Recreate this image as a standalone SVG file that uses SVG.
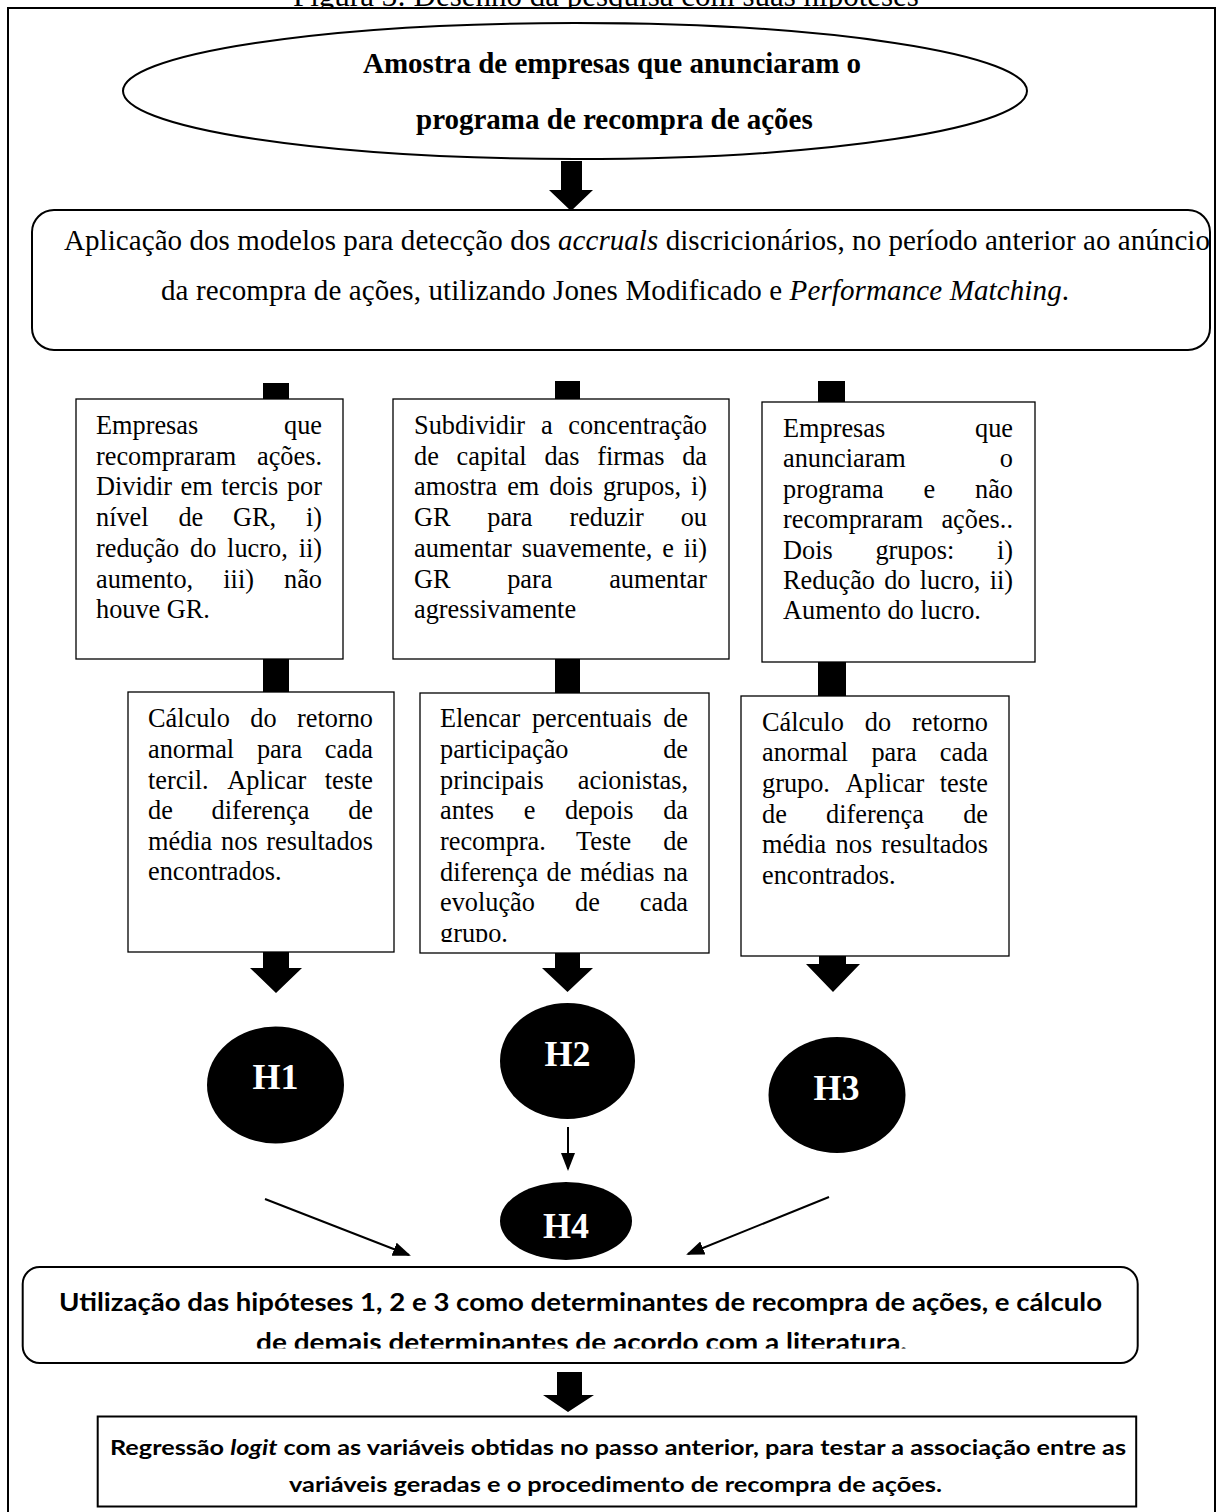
<svg xmlns="http://www.w3.org/2000/svg" width="1222" height="1512" viewBox="0 0 1222 1512">
<style>
.ln{fill:none;stroke:#000;stroke-width:2}
.wf{fill:#fff;stroke:#000;stroke-width:2}
.bx{fill:#fff;stroke:#000;stroke-width:1.3}
.blk{fill:#000}
.thin{fill:none;stroke:#000;stroke-width:2;marker-end:url(#arr)}
.serif{font-family:"Liberation Serif","Times New Roman",serif;fill:#000}
.t{font-size:26.3px}
.e{text-anchor:end}
.h{font-family:"Liberation Serif","Times New Roman",serif;font-size:36px;font-weight:bold;fill:#fff;text-anchor:middle}
.sans{font-family:Lato,"Open Sans",sans-serif;font-weight:bold;fill:#000}
</style>
<defs>
<marker id="arr" markerUnits="userSpaceOnUse" markerWidth="18" markerHeight="14" refX="16" refY="7" orient="auto">
<path d="M0,0 L18,7 L0,14 Z" fill="#000"/>
</marker>
<clipPath id="c5"><rect x="420" y="693" width="289" height="249"/></clipPath>
<clipPath id="c7"><rect x="22" y="1267" width="1116" height="81.5"/></clipPath>
</defs>
<rect width="1222" height="1512" fill="#fff"/>
<text class="serif" x="293" y="6" font-size="31">Figura 3: Desenho da pesquisa com suas hipóteses</text>
<rect id="frame" class="wf" x="8" y="8" width="1207" height="1512"/>

<g id="n1">
<ellipse class="wf" cx="575" cy="91" rx="452" ry="68"/>
<text class="serif" font-size="29" font-weight="bold" x="363" y="73">Amostra de empresas que anunciaram o</text>
<text class="serif" font-size="29" font-weight="bold" x="416" y="129">programa de recompra de ações</text>
</g>

<g id="n2">
<rect class="wf" x="32" y="210" width="1178" height="140" rx="22"/>
<text class="serif" font-size="29" x="64" y="250" textLength="1146" lengthAdjust="spacing">Aplicação dos modelos para detecção dos <tspan font-style="italic">accruals</tspan> discricionários, no período anterior ao anúncio</text>
<text class="serif" font-size="29" x="161" y="300" textLength="908" lengthAdjust="spacing">da recompra de ações, utilizando Jones Modificado e <tspan font-style="italic">Performance Matching</tspan>.</text>
</g>

<g id="connectors">
<polygon class="blk" points="561,161 582,161 582,190 593,190 571,211 549,190 561,190"/>
<rect class="blk" x="263" y="383" width="26" height="16"/>
<rect class="blk" x="555" y="381" width="25" height="18"/>
<rect class="blk" x="818" y="381" width="27" height="21"/>
<rect class="blk" x="263" y="659" width="26" height="33"/>
<rect class="blk" x="555" y="659" width="25" height="34"/>
<rect class="blk" x="818" y="662" width="28" height="34"/>
<polygon class="blk" points="263,952 289,952 289,968 302,968 276,993 250,968 263,968"/>
<polygon class="blk" points="555,953 580,953 580,968 593,968 567.5,992 542,968 555,968"/>
<polygon class="blk" points="819,956 846,956 846,964 860,964 833,992 806,964 819,964"/>
<line class="thin" x1="568" y1="1127" x2="568" y2="1169"/>
<line class="thin" x1="265" y1="1199" x2="409" y2="1255"/>
<line class="thin" x1="829" y1="1197" x2="688" y2="1254"/>
<polygon class="blk" points="557,1372 582,1372 582,1395 594,1395 568,1412 543,1395 557,1395"/>
</g>

<g id="b1">
<rect class="bx" x="76" y="399" width="267" height="260"/>
<text class="serif t"><tspan x="96" y="434">Empresas</tspan><tspan class="e" x="322" y="434">que</tspan><tspan x="96" y="464.7">recompraram</tspan><tspan class="e" x="322" y="464.7">ações.</tspan><tspan x="96" y="495.4">Dividir</tspan><tspan x="180.6" y="495.4">em</tspan><tspan x="221.3" y="495.4">tercis</tspan><tspan class="e" x="322" y="495.4">por</tspan><tspan x="96" y="526.1">nível</tspan><tspan x="178.4" y="526.1">de</tspan><tspan x="233" y="526.1">GR,</tspan><tspan class="e" x="322" y="526.1">i)</tspan><tspan x="96" y="556.8">redução</tspan><tspan x="190" y="556.8">do</tspan><tspan x="227.1" y="556.8">lucro,</tspan><tspan class="e" x="322" y="556.8">ii)</tspan><tspan x="96" y="587.5">aumento,</tspan><tspan x="223.3" y="587.5">iii)</tspan><tspan class="e" x="322" y="587.5">não</tspan><tspan x="96" y="618.2">houve GR.</tspan></text>
</g>

<g id="b2">
<rect class="bx" x="393" y="399" width="336" height="260"/>
<text class="serif t"><tspan x="414" y="434">Subdividir</tspan><tspan x="540.9" y="434">a</tspan><tspan class="e" x="707" y="434">concentração</tspan><tspan x="414" y="464.7">de</tspan><tspan x="456.6" y="464.7">capital</tspan><tspan x="544.4" y="464.7">das</tspan><tspan x="597.3" y="464.7">firmas</tspan><tspan class="e" x="707" y="464.7">da</tspan><tspan x="414" y="495.4">amostra</tspan><tspan x="507.2" y="495.4">em</tspan><tspan x="549.2" y="495.4">dois</tspan><tspan x="602.9" y="495.4">grupos,</tspan><tspan class="e" x="707" y="495.4">i)</tspan><tspan x="414" y="526.1">GR</tspan><tspan x="487.3" y="526.1">para</tspan><tspan x="569.4" y="526.1">reduzir</tspan><tspan class="e" x="707" y="526.1">ou</tspan><tspan x="414" y="556.8">aumentar</tspan><tspan x="521.7" y="556.8">suavemente,</tspan><tspan x="662.2" y="556.8">e</tspan><tspan class="e" x="707" y="556.8">ii)</tspan><tspan x="414" y="587.5">GR</tspan><tspan x="507.2" y="587.5">para</tspan><tspan class="e" x="707" y="587.5">aumentar</tspan><tspan x="414" y="618.2">agressivamente</tspan></text>
</g>

<g id="b3">
<rect class="bx" x="762" y="402" width="273" height="260"/>
<text class="serif t"><tspan x="783" y="437">Empresas</tspan><tspan class="e" x="1013" y="437">que</tspan><tspan x="783" y="467.4">anunciaram</tspan><tspan class="e" x="1013" y="467.4">o</tspan><tspan x="783" y="497.8">programa</tspan><tspan x="923.6" y="497.8">e</tspan><tspan class="e" x="1013" y="497.8">não</tspan><tspan x="783" y="528.2">recompraram</tspan><tspan class="e" x="1013" y="528.2">ações..</tspan><tspan x="783" y="558.6">Dois</tspan><tspan x="875.4" y="558.6">grupos:</tspan><tspan class="e" x="1013" y="558.6">i)</tspan><tspan x="783" y="589">Redução</tspan><tspan x="884.2" y="589">do</tspan><tspan x="919.8" y="589">lucro,</tspan><tspan class="e" x="1013" y="589">ii)</tspan><tspan x="783" y="619.4">Aumento do lucro.</tspan></text>
</g>

<g id="b4">
<rect class="bx" x="128" y="692" width="266" height="260"/>
<text class="serif t"><tspan x="148" y="727.3">Cálculo</tspan><tspan x="250.3" y="727.3">do</tspan><tspan class="e" x="373" y="727.3">retorno</tspan><tspan x="148" y="757.9">anormal</tspan><tspan x="256.9" y="757.9">para</tspan><tspan class="e" x="373" y="757.9">cada</tspan><tspan x="148" y="788.5">tercil.</tspan><tspan x="227.3" y="788.5">Aplicar</tspan><tspan class="e" x="373" y="788.5">teste</tspan><tspan x="148" y="819.1">de</tspan><tspan x="211.6" y="819.1">diferença</tspan><tspan class="e" x="373" y="819.1">de</tspan><tspan x="148" y="849.7">média</tspan><tspan x="221.1" y="849.7">nos</tspan><tspan class="e" x="373" y="849.7">resultados</tspan><tspan x="148" y="880.3">encontrados.</tspan></text>
</g>

<g id="b5">
<rect class="bx" x="420" y="693" width="289" height="260"/>
<text class="serif t" clip-path="url(#c5)"><tspan x="440" y="727.3">Elencar</tspan><tspan x="531.9" y="727.3">percentuais</tspan><tspan class="e" x="688" y="727.3">de</tspan><tspan x="440" y="758">participação</tspan><tspan class="e" x="688" y="758">de</tspan><tspan x="440" y="788.6">principais</tspan><tspan class="e" x="688" y="788.6">acionistas,</tspan><tspan x="440" y="819.3">antes</tspan><tspan x="523.7" y="819.3">e</tspan><tspan x="564.9" y="819.3">depois</tspan><tspan class="e" x="688" y="819.3">da</tspan><tspan x="440" y="850">recompra.</tspan><tspan x="576" y="850">Teste</tspan><tspan class="e" x="688" y="850">de</tspan><tspan x="440" y="880.6">diferença</tspan><tspan x="546.5" y="880.6">de</tspan><tspan x="580" y="880.6">médias</tspan><tspan class="e" x="688" y="880.6">na</tspan><tspan x="440" y="911.3">evolução</tspan><tspan x="575" y="911.3">de</tspan><tspan class="e" x="688" y="911.3">cada</tspan><tspan x="440" y="942">grupo.</tspan></text>
</g>

<g id="b6">
<rect class="bx" x="741" y="696" width="268" height="260"/>
<text class="serif t"><tspan x="762" y="730.7">Cálculo</tspan><tspan x="864.8" y="730.7">do</tspan><tspan class="e" x="988" y="730.7">retorno</tspan><tspan x="762" y="761.3">anormal</tspan><tspan x="871.4" y="761.3">para</tspan><tspan class="e" x="988" y="761.3">cada</tspan><tspan x="762" y="791.9">grupo.</tspan><tspan x="845.4" y="791.9">Aplicar</tspan><tspan class="e" x="988" y="791.9">teste</tspan><tspan x="762" y="822.5">de</tspan><tspan x="826.1" y="822.5">diferença</tspan><tspan class="e" x="988" y="822.5">de</tspan><tspan x="762" y="853.1">média</tspan><tspan x="835.6" y="853.1">nos</tspan><tspan class="e" x="988" y="853.1">resultados</tspan><tspan x="762" y="883.7">encontrados.</tspan></text>
</g>

<g id="h1"><ellipse class="blk" cx="275.5" cy="1085" rx="68.5" ry="58.5"/><text class="h" x="275.5" y="1089">H1</text></g>
<g id="h2"><ellipse class="blk" cx="567.5" cy="1061" rx="67.5" ry="58"/><text class="h" x="567.5" y="1066">H2</text></g>
<g id="h3"><ellipse class="blk" cx="837" cy="1095" rx="68.5" ry="58"/><text class="h" x="836.5" y="1100">H3</text></g>
<g id="h4"><ellipse class="blk" cx="566" cy="1221" rx="66" ry="39"/><text class="h" x="566" y="1238">H4</text></g>

<g id="n7">
<rect class="wf" x="22.7" y="1267" width="1115" height="96" rx="17"/>
<text class="sans" font-size="24" x="59" y="1311" textLength="1043" lengthAdjust="spacingAndGlyphs">Utilização das hipóteses 1, 2 e 3 como determinantes de recompra de ações, e cálculo</text>
<text class="sans" font-size="24" x="256" y="1350.5" textLength="651" lengthAdjust="spacingAndGlyphs" clip-path="url(#c7)">de demais determinantes de acordo com a literatura.</text>
</g>

<g id="n8">
<rect class="wf" x="97.7" y="1416.5" width="1038.5" height="90"/>
<text class="sans" font-size="21" x="110" y="1455" textLength="1016" lengthAdjust="spacingAndGlyphs">Regressão <tspan font-style="italic">logit</tspan> com as variáveis obtidas no passo anterior, para testar a associação entre as</text>
<text class="sans" font-size="21" x="289" y="1492" textLength="653" lengthAdjust="spacingAndGlyphs">variáveis geradas e o procedimento de recompra de ações.</text>
</g>
</svg>
